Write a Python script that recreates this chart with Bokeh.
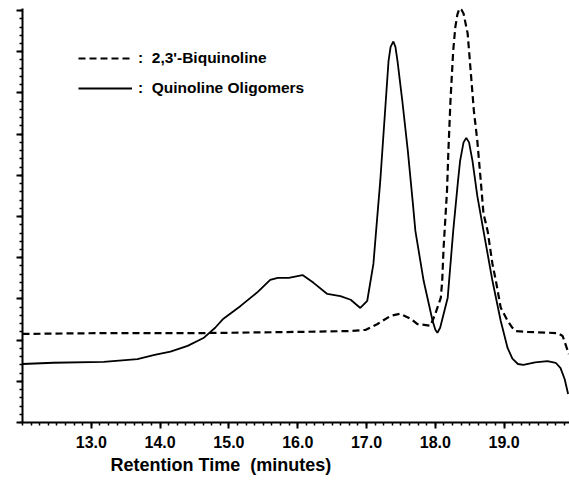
from bokeh.plotting import figure
from bokeh.models import Range1d, Legend, LegendItem, Title, FixedTicker
from bokeh.embed import file_html
from bokeh.resources import INLINE

# ---- data ----
oligo_time = [12.00, 12.45, 13.18, 13.67, 13.92, 14.15, 14.40, 14.63, 14.80, 14.92,
              15.17, 15.42, 15.60, 15.71, 15.87, 16.07, 16.23, 16.43, 16.62, 16.77,
              16.91, 17.01, 17.10, 17.16, 17.20, 17.28, 17.32, 17.35, 17.39, 17.42,
              17.45, 17.52, 17.60, 17.67, 17.71, 17.83, 17.96, 18.00, 18.03, 18.07,
              18.18, 18.26, 18.33, 18.36, 18.41, 18.45, 18.49, 18.54, 18.61, 18.70,
              18.83, 18.95, 19.05, 19.12, 19.20, 19.28, 19.45, 19.63, 19.75, 19.82,
              19.88, 19.93]
oligo_signal = [1.42, 1.45, 1.47, 1.54, 1.64, 1.72, 1.86, 2.05, 2.30, 2.52,
                2.83, 3.17, 3.46, 3.51, 3.51, 3.58, 3.39, 3.12, 3.07, 2.98,
                2.78, 2.95, 3.85, 5.07, 5.87, 7.81, 8.78, 9.12, 9.25, 9.12,
                8.78, 7.81, 6.60, 5.38, 4.65, 3.44, 2.47, 2.25, 2.18, 2.30,
                3.03, 4.65, 5.87, 6.35, 6.80, 6.91, 6.80, 6.35, 5.50, 4.65,
                3.44, 2.47, 1.81, 1.55, 1.42, 1.40, 1.46, 1.49, 1.45, 1.32,
                1.05, 0.69]

biq_time = [12.00, 13.13, 14.59, 16.04, 16.77, 16.99, 17.16, 17.35, 17.49, 17.64,
            17.74, 17.93, 18.00, 18.08, 18.10, 18.12, 18.15, 18.17, 18.19, 18.22,
            18.26, 18.29, 18.32, 18.35, 18.38, 18.41, 18.47, 18.51, 18.56, 18.61,
            18.66, 18.70, 18.76, 18.83, 18.88, 18.95, 19.05, 19.12, 19.17, 19.34,
            19.78, 19.85, 19.89, 19.94]
biq_signal = [2.15, 2.17, 2.17, 2.20, 2.22, 2.25, 2.39, 2.59, 2.64, 2.52,
              2.39, 2.35, 2.64, 3.03, 3.44, 4.24, 5.07, 5.63, 6.60, 7.81,
              9.03, 9.59, 9.90, 10.05, 10.02, 9.93, 9.44, 8.61, 7.57, 6.84,
              5.87, 5.07, 4.65, 3.85, 3.44, 2.79, 2.47, 2.30, 2.22, 2.20,
              2.17, 2.10, 1.91, 1.66]

x_ticks = [13, 14, 15, 16, 17, 18, 19]
x_tick_labels = ["13.0", "14.0", "15.0", "16.0", "17.0", "18.0", "19.0"]
y_ticks = [0, 1, 2, 3, 4, 5, 6, 7, 8, 9, 10]

series_names = [":\u00a0\u00a02,3'-Biquinoline", ":\u00a0\u00a0Quinoline Oligomers"]
x_title = "Retention Time\u00a0\u00a0(minutes)"

FONT = "Liberation Sans"

p = figure(width=569, height=489, output_backend="svg", toolbar_location=None,
           x_range=Range1d(12.0, 19.95), y_range=Range1d(0, 10.05),
           min_border_left=22, min_border_right=0, min_border_top=8,
           min_border_bottom=67)
p.outline_line_color = None
p.xgrid.visible = False
p.ygrid.visible = False
p.background_fill_color = "white"
p.border_fill_color = "white"

r_biq = p.line(biq_time, biq_signal, line_color="black", line_width=2.2,
               line_dash="7 4")
r_olig = p.line(oligo_time, oligo_signal, line_color="black", line_width=1.8)

# x axis
minor_x = [12 + i * 0.125 for i in range(0, 64)]
p.xaxis.ticker = FixedTicker(ticks=x_ticks, minor_ticks=minor_x)
p.xaxis.major_label_overrides = {t: l for t, l in zip(x_ticks, x_tick_labels)}
p.xaxis.major_label_text_font = FONT
p.xaxis.major_label_text_font_style = "bold"
p.xaxis.major_label_text_font_size = "16px"
p.xaxis.major_label_text_color = "black"
p.xaxis.major_label_standoff = 7
p.xaxis.major_tick_out = 6
p.xaxis.major_tick_in = 0
p.xaxis.minor_tick_out = 3
p.xaxis.minor_tick_in = 0
p.xaxis.axis_line_width = 2
p.xaxis.major_tick_line_width = 2
p.xaxis.minor_tick_line_width = 1.5
p.xaxis.axis_line_color = "black"
p.xaxis.major_tick_line_color = "black"
p.xaxis.minor_tick_line_color = "black"

# y axis (no labels)
minor_y = [i * 0.2 for i in range(0, 51)]
p.yaxis.ticker = FixedTicker(ticks=y_ticks, minor_ticks=minor_y)
p.yaxis.major_label_overrides = {t: "" for t in y_ticks}
p.yaxis.major_tick_out = 6
p.yaxis.major_tick_in = 0
p.yaxis.minor_tick_out = 3
p.yaxis.minor_tick_in = 0
p.yaxis.axis_line_width = 2
p.yaxis.major_tick_line_width = 2
p.yaxis.minor_tick_line_width = 1.5
p.yaxis.axis_line_color = "black"
p.yaxis.major_tick_line_color = "black"
p.yaxis.minor_tick_line_color = "black"

# axis title, left-aligned as in the original
t = Title(text=x_title, align="left", offset=88, text_font=FONT,
          text_font_style="bold", text_font_size="18px", text_color="black",
          standoff=5)
p.add_layout(t, "below")

legend = Legend(items=[LegendItem(label=series_names[0], renderers=[r_biq]),
                       LegendItem(label=series_names[1], renderers=[r_olig])],
                location=(56, 324), padding=0, spacing=10, glyph_width=54,
                glyph_height=20, label_height=20, label_standoff=6,
                border_line_color=None, background_fill_alpha=0,
                label_text_font=FONT, label_text_font_style="bold",
                label_text_font_size="15.5px", label_text_color="black")
p.add_layout(legend, "center")

open("out.html", "w").write(file_html(p, INLINE))
